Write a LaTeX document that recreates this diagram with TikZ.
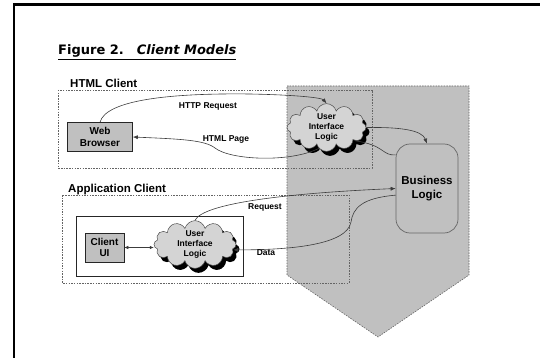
\documentclass[tikz,border=0pt]{standalone}
\usepackage{fontspec}
\setmainfont{Liberation Sans}
\newfontfamily\titlefont{DejaVu Sans}
\usetikzlibrary{shapes.symbols,shadows,arrows.meta,calc}
\definecolor{shade}{RGB}{192,192,192}
\definecolor{cloudgray}{RGB}{212,212,212}
\definecolor{linegray}{RGB}{60,60,60}
\definecolor{dashgray}{RGB}{100,100,100}
\begin{document}
\begin{tikzpicture}[x=1pt,y=-1pt,
  conn/.style={draw=linegray, line width=0.6pt},
  tip/.style={-{Latex[length=5pt,width=4pt]}},
  grouparea/.style={draw=dashgray, dash pattern=on 1.5pt off 1.2pt, line width=0.6pt},
  boxnode/.style={draw=black!85, fill=shade, line width=0.6pt, inner sep=0pt, align=center,
    font=\fontsize{10}{11.5}\selectfont\bfseries},
  uilogic/.style={cloud, cloud puffs=12, cloud ignores aspect, draw=black!70, fill=cloudgray,
    line width=0.5pt, minimum width=79pt, minimum height=43pt, inner sep=0pt, align=center,
    font=\fontsize{8.5}{10}\selectfont\bfseries,
    drop shadow={shadow xshift=3.5pt, shadow yshift=-4.5pt, fill=black, opacity=1}},
  msg/.style={font=\fontsize{8.5}{10}\selectfont\bfseries, inner sep=0pt},
  grouplabel/.style={font=\fontsize{11.5}{13}\selectfont\bfseries, anchor=base west, inner sep=0pt}
]
\useasboundingbox (0,0) rectangle (540,358);

% page frame
\draw[line width=2.6pt] (13.8,370) -- (13.8,4.3) -- (560,4.3);

% title
\node[anchor=base west, inner sep=0pt, font=\titlefont\fontsize{13}{15}\selectfont\bfseries]
  (title) at (58,55) {\underline{Figure 2.\hspace{13pt}{\itshape Client Models}}};

% server-side tier (arrow-shaped band)
\path[fill=shade, draw=dashgray, dash pattern=on 1.5pt off 1.2pt, line width=0.6pt]
  (287,86) -- (469,86) -- (469,275) -- (378,337) -- (287,275) -- cycle;

% client groupings
\draw[grouparea] (58,90) rectangle (372,168);
\draw[grouparea] (62,195) rectangle (349,283);
\draw[line width=0.6pt, draw=black!85] (76,216) rectangle (243,276);

\node[grouplabel] (htmllbl) at (70,87.5) {HTML Client};
\node[grouplabel] (applbl) at (68,192) {Application Client};

% components
\node[boxnode, minimum width=65pt, minimum height=29pt] (wb) at (100,137) {Web\\Browser};
\node[boxnode, minimum width=39pt, minimum height=29pt] (cui) at (104.5,247.5) {Client\\UI};
\node[uilogic] (ui1) at (326.5,127.5) {User\\Interface\\Logic};
\node[uilogic, minimum width=82pt] (ui2) at (195,244.5) {User\\Interface\\Logic};
\node[draw=black!60, fill=shade, line width=0.7pt, rounded corners=14pt, minimum width=62pt,
  minimum height=89pt, inner sep=0pt, align=center,
  font=\fontsize{11.5}{13.5}\selectfont\bfseries] (bl) at (427,188.5) {Business\\Logic};

% HTML client traffic
\draw[conn,tip] (wb.north) .. controls (106,100) and (170,93) .. (250,94)
  .. controls (300,95) and (322,98) .. (ui1.north);
\node[msg] (httpreq) at (208,106) {HTTP Request};
\draw[conn,tip] (ui1.250) .. controls (290,163) and (230,160) .. (215,148)
  .. controls (205,140) and (180,139) .. (wb.east);
\node[msg] (htmlpage) at (226,139) {HTML Page};
\draw[conn,tip] (ui1.east) .. controls (400,127) and (422,130) .. (bl.north);
\draw[conn] (ui1.-25) .. controls (385,145) and (382,156) .. (bl.133);

% application client traffic
\draw[conn,{Latex[length=4pt,width=3.5pt]}-{Latex[length=4pt,width=3.5pt]}]
  (cui.east) -- (cui.east -| ui2.west);
\draw[conn,tip] (ui2.north) .. controls (203,203) and (290,193) .. (bl.west);
\node[msg] (request) at (265,207) {Request};
\draw[conn,tip] (bl.192) .. controls (362,198) and (353,208) .. (351,222)
  .. controls (347,245) and (290,250) .. (ui2.-8);
\node[msg] (data) at (266,253) {Data};
\end{tikzpicture}
\end{document}
